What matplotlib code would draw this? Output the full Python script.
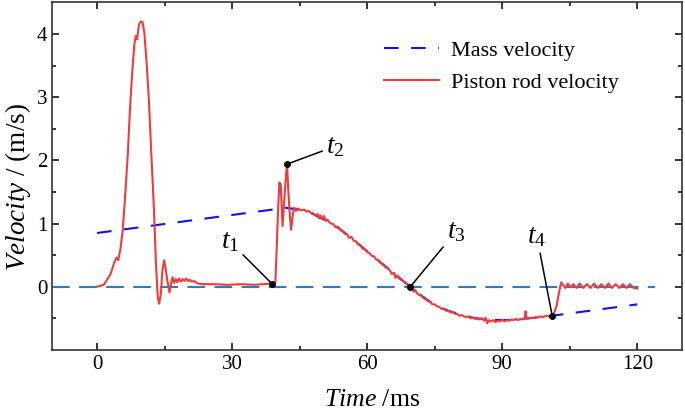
import numpy as np
import matplotlib
matplotlib.use("Agg")
import matplotlib.pyplot as plt

# piston rod velocity (m/s)
rod_t = [0, 1.5, 3.0, 3.8, 4.3, 4.7, 5.2, 5.7, 6.2, 6.8, 7.3, 7.8, 8.3, 8.6, 8.9, 9.3, 9.7, 10.1,
         10.5, 11.0, 11.5, 12.0, 12.6, 13.1, 13.5, 13.8, 14.2, 14.5, 14.9, 15.2, 15.6, 16.1, 16.5,
         16.8, 17.1, 17.5, 17.8, 18.2, 18.6, 19.0, 19.4, 19.8, 20.2, 20.6, 21.0, 21.6, 22.3, 23.5,
         26, 29, 32, 35, 37, 38.8, 39.6, 39.9, 40.2, 40.5, 40.8, 41.2, 41.6, 42.0, 42.2, 42.5, 42.8,
         43.1, 43.5, 43.8, 44.2, 44.6, 45.0, 45.5, 46, 46.5, 47, 47.5, 48, 48.5, 49, 49.3, 49.6, 50,
         50.4, 50.8, 51.2, 51.6, 52, 52.5, 53, 53.5, 54, 54.5, 55, 55.5, 56, 56.5, 57, 57.5, 58, 58.5,
         59, 59.5, 60, 60.5, 61, 61.5, 62, 62.5, 63, 63.5, 64, 64.5, 65, 65.5, 66, 66.3, 66.7, 67,
         67.5, 68, 68.5, 69, 69.6, 70, 70.3, 70.7, 71, 71.5, 72, 72.5, 73, 73.5, 74, 74.5, 75, 75.5,
         76, 76.5, 77, 77.5, 78, 78.5, 79, 79.5, 80, 80.5, 81, 81.5, 82, 82.5, 83, 83.5, 84, 84.5,
         85, 85.5, 86, 86.3, 86.7, 87, 87.5, 88, 88.5, 89, 89.5, 90, 90.5, 91, 91.5, 92, 92.5, 93,
         93.5, 94, 94.5, 95, 95.2, 95.4, 96, 96.5, 97, 97.5, 98, 98.5, 99, 99.5, 100, 100.5, 101.1,
         101.6, 102.1, 102.6, 103.1, 103.5, 104, 104.6, 105.2, 105.8, 106.5, 107.2, 108, 108.8,
         109.6, 110.4, 111.2, 112, 112.8, 113.6, 114.4, 115.2, 116, 116.8, 117.6, 118.4, 119.2, 120]
rod_v = [0, 0.03, 0.2, 0.38, 0.46, 0.42, 0.6, 0.9, 1.4, 2.07, 2.8, 3.39, 3.85, 3.97, 3.92, 4.15, 4.2, 4.19,
         4.02, 3.55, 2.97, 2.18, 1.28, 0.33, -0.18, -0.27, -0.09, 0.25, 0.42, 0.3, 0.1, -0.09, 0.08,
         0.15, 0.06, 0.12, 0.07, 0.13, 0.08, 0.12, 0.09, 0.13, 0.09, 0.11, 0.08, 0.09, 0.05, 0.04,
         0.04, 0.03, 0.04, 0.03, 0.04, 0.05, 0.06, 0.6, 1.2, 1.65, 1.62, 0.96, 1.39, 1.8, 1.94, 1.5, 1.15,
         0.9, 1.15, 1.25, 1.2, 1.24, 1.22, 1.21, 1.22, 1.19, 1.2, 1.17, 1.16, 1.13, 1.15, 1.08, 1.13, 1.07,
         1.12, 1.04, 1.06, 1.02, 1.0, 0.99, 0.94, 0.95, 0.9, 0.88, 0.84, 0.83, 0.77, 0.79, 0.73, 0.72, 0.67, 0.66,
         0.6, 0.6, 0.55, 0.53, 0.49, 0.48, 0.43, 0.42, 0.37, 0.36, 0.31, 0.3, 0.26, 0.2, 0.22, 0.14, 0.18, 0.14,
         0.11, 0.09, 0.06, 0.04, 0.0, 0.03, -0.08, -0.05, -0.1, -0.13, -0.14, -0.18, -0.2, -0.23, -0.24, -0.28, -0.28, -0.31,
         -0.32, -0.35, -0.35, -0.38, -0.38, -0.41, -0.4, -0.43, -0.43, -0.46, -0.45, -0.47, -0.48, -0.47, -0.5, -0.49, -0.51, -0.5,
         -0.52, -0.5, -0.54, -0.49, -0.58, -0.53, -0.55, -0.53, -0.56, -0.54, -0.55, -0.52, -0.55, -0.53, -0.54, -0.52, -0.53, -0.51,
         -0.53, -0.51, -0.52, -0.5, -0.39, -0.5, -0.5, -0.49, -0.5, -0.48, -0.49, -0.47, -0.48, -0.47, -0.46, -0.47, -0.46,
         -0.4, -0.3, -0.1, 0.07, 0.03, -0.02, 0.05, -0.01, 0.04, -0.02, 0.05, -0.02, 0.04,
         -0.02, 0.05, -0.02, 0.04, -0.02, 0.05, -0.02, 0.04, -0.02, 0.04, -0.02, 0.04, -0.02, -0.03]

# mass velocity (m/s)
mass_t = [0, 42, 43, 45, 48, 51, 54, 57, 60, 63, 66, 69, 70, 72, 75, 78, 81, 84, 87, 90, 93, 96, 99, 101.1, 120]
mass_v = [0.85, 1.25, 1.24, 1.22, 1.15, 1.04, 0.91, 0.74, 0.56, 0.38, 0.21, 0.03, -0.02, -0.14, -0.29,
          -0.38, -0.45, -0.5, -0.52, -0.53, -0.52, -0.5, -0.48, -0.46, -0.28]

# zero reference line
zero_t = [-10, 124]
zero_v = [0, 0]

# characteristic instants
event_t = [38.8, 42.2, 69.6, 101.1]
event_lbl = [r'$t_1$', r'$t_2$', r'$t_3$', r'$t_4$']
event_off = [(-30, 30), (35, 13), (33, 40), (-11, 57)]

plt.rcParams['font.family'] = ['Liberation Serif', 'DejaVu Serif']
plt.rcParams['mathtext.fontset'] = 'custom'
plt.rcParams['mathtext.rm'] = 'Liberation Serif'
plt.rcParams['mathtext.it'] = 'Liberation Serif:italic'

fig = plt.figure(figsize=(6.85, 4.15), dpi=100)
ax = fig.add_axes([0.076, 0.157, 0.920, 0.837])

ax.plot(zero_t, zero_v, color='#2b7bc8', lw=1.5, dashes=(8.5, 4.5))
ax.plot(mass_t, mass_v, color='#1010f0', lw=1.5, dashes=(7, 6), label='Mass velocity')
ax.plot(rod_t, rod_v, color='#ee3b3b', lw=1.5, label='Piston rod velocity')

ev_v = np.interp(event_t, rod_t, rod_v)
ax.plot(event_t, ev_v, 'o', color='k', ms=4, zorder=5)
for t, v, s, off in zip(event_t, ev_v, event_lbl, event_off):
    ax.annotate(s, xy=(t, v), xytext=off, textcoords='offset points', fontsize=20,
                ha='center', va='center',
                arrowprops=dict(arrowstyle='-', color='k', lw=1.1, shrinkA=1, shrinkB=0))

ax.set_xlim(-10, 130)
ax.set_ylim(-1, 4.5)
ax.set_xticks([0, 30, 60, 90, 120])
ax.set_xticks([15, 45, 75, 105], minor=True)
ax.set_yticks([0, 1, 2, 3, 4])
ax.set_yticks([-0.5, 0.5, 1.5, 2.5, 3.5], minor=True)
ax.tick_params(which='both', direction='in', top=True, right=True, labelsize=15, width=1.1)
ax.tick_params(which='major', length=5)
ax.tick_params(which='minor', length=3)
for sp in ax.spines.values():
    sp.set_linewidth(1.2)
    sp.set_color('#333333')

ax.set_xlabel(r'$\mathit{Time}$ /ms', fontsize=18.5, va='center')
ax.set_ylabel(r'$\mathit{Velocity}$ / (m/s)', fontsize=19.5, va='center')
ax.xaxis.set_label_coords(0.507, -0.144)
ax.yaxis.set_label_coords(-0.054, 0.468)

ax.legend(loc='upper left', bbox_to_anchor=(0.509, 0.922), frameon=False, fontsize=16,
          borderpad=0, handlelength=2.48, handletextpad=0.54, labelspacing=0.5)

plt.savefig('out.png', dpi=100)
